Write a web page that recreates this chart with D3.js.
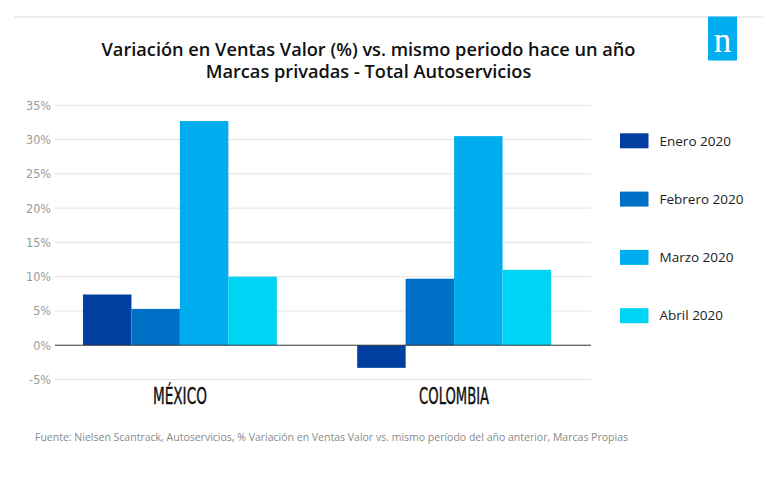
<!DOCTYPE html>
<html>
<head>
<meta charset="utf-8">
<script src="https://cdn.jsdelivr.net/npm/d3@7"></script>
<style>
  html, body { margin: 0; padding: 0; background: #fff; }
  svg { display: block; }
</style>
</head>
<body>
<svg id="chart" width="771" height="483"></svg>
<script>
// ---- data ----
const categories = ["MÉXICO", "COLOMBIA"];
const seriesNames = ["Enero 2020", "Febrero 2020", "Marzo 2020", "Abril 2020"];
const enero   = [7.4, -3.3];
const febrero = [5.3, 9.7];
const marzo   = [32.7, 30.5];
const abril   = [10.0, 11.0];
const yTicks  = [-5, 0, 5, 10, 15, 20, 25, 30, 35];
const titleLines = ["Variación en Ventas Valor (%) vs. mismo periodo hace un año",
                    "Marcas privadas - Total Autoservicios"];
const footnote = "Fuente: Nielsen Scantrack, Autoservicios, % Variación en Ventas Valor vs. mismo período del año anterior, Marcas Propias";

const seriesValues = [enero, febrero, marzo, abril];
const colors = ["#003f9f", "#0070c6", "#00aeef", "#00d4f5"];

const svg = d3.select("#chart");

// top rule
svg.append("line").attr("x1", 14).attr("x2", 763).attr("y1", 17).attr("y2", 17)
  .attr("stroke", "#e6e6e6").attr("stroke-width", 1.5);

// logo
svg.append("rect").attr("x", 708).attr("y", 16.5).attr("width", 29).attr("height", 44)
  .attr("fill", "#00aeef");
svg.append("text").attr("x", 722.5).attr("y", 52).attr("text-anchor", "middle")
  .attr("font-family", "Liberation Serif, DejaVu Serif, serif").attr("font-size", 35)
  .attr("fill", "#fff").text("n");

// title
svg.selectAll("text.title").data(titleLines).join("text")
  .attr("class", "title")
  .attr("x", 368.5).attr("y", (d, i) => 55.5 + i * 22.5)
  .attr("text-anchor", "middle")
  .attr("font-family", "Open Sans, sans-serif").attr("font-weight", 600)
  .attr("font-size", 18.2).attr("fill", "#111")
  .text(d => d);

// scales
const y = d3.scaleLinear().domain([-5, 35]).range([379.5, 105.3]);
const x0 = d3.scaleBand().domain(categories).range([55, 579]).paddingInner(0.293).paddingOuter(0.102);
const x1 = d3.scaleBand().domain(seriesNames).range([0, x0.bandwidth()]).padding(0);

const plotL = 55, plotR = 591;

// gridlines
svg.append("g").selectAll("line").data(yTicks.filter(t => t !== 0)).join("line")
  .attr("x1", plotL).attr("x2", plotR)
  .attr("y1", d => y(d)).attr("y2", d => y(d))
  .attr("stroke", "#e2e2e2").attr("stroke-width", 1);

// y axis labels
const yAxis = d3.axisLeft(y).tickValues(yTicks).tickFormat(d => d + "%").tickSize(0).tickPadding(4);
const gy = svg.append("g").attr("transform", `translate(${plotL},0)`).call(yAxis);
gy.select(".domain").remove();
gy.selectAll("text").attr("font-family", "Liberation Sans Narrow, DejaVu Sans Condensed, sans-serif")
  .attr("font-size", 12.5).attr("fill", "#9a9a9a");

// bars
const groups = svg.append("g").selectAll("g").data(categories).join("g")
  .attr("transform", d => `translate(${x0(d)},0)`);
groups.selectAll("rect").data((c, ci) => seriesNames.map((s, si) => ({s, si, v: seriesValues[si][ci]})))
  .join("rect")
  .attr("x", d => x1(d.s))
  .attr("width", x1.bandwidth())
  .attr("y", d => y(Math.max(0, d.v)))
  .attr("height", d => Math.abs(y(d.v) - y(0)))
  .attr("fill", d => colors[d.si]);

// zero line
svg.append("line").attr("x1", plotL).attr("x2", plotR).attr("y1", y(0)).attr("y2", y(0))
  .attr("stroke", "#333").attr("stroke-width", 1);

// category labels
const xAxis = d3.axisBottom(x0).tickSize(0).tickPadding(0);
const gx = svg.append("g").attr("transform", `translate(0,${387})`).call(xAxis);
gx.select(".domain").remove();
gx.selectAll("text")
  .attr("font-family", "Liberation Sans Narrow, DejaVu Sans Condensed, sans-serif")
  .attr("font-size", 23.5).attr("fill", "#111").attr("dy", "0.71em")
  .attr("textLength", d => d === "MÉXICO" ? 54 : 70)
  .attr("lengthAdjust", "spacingAndGlyphs")
  .attr("stroke", "#111").attr("stroke-width", 0.4);

// legend
const leg = svg.append("g").selectAll("g").data(seriesNames).join("g")
  .attr("transform", (d, i) => `translate(620,${133.3 + i * 58.3})`);
leg.append("rect").attr("width", 28.5).attr("height", 15).attr("fill", (d, i) => colors[i]);
leg.append("text").attr("x", 39.5).attr("y", 7.5).attr("dy", "0.35em")
  .attr("font-family", "Open Sans, sans-serif").attr("font-size", 13.5).attr("fill", "#222")
  .text(d => d);

// footnote
svg.append("text").attr("x", 35).attr("y", 441)
  .attr("font-family", "Open Sans, sans-serif").attr("font-size", 10.5).attr("fill", "#8a8a8a")
  .attr("textLength", 593).attr("lengthAdjust", "spacingAndGlyphs")
  .text(footnote);
</script>
</body>
</html>
